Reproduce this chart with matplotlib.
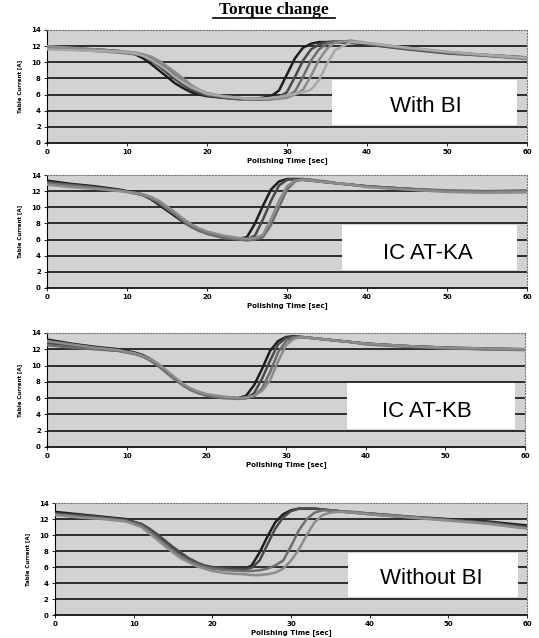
import matplotlib
matplotlib.use("Agg")
import matplotlib.pyplot as plt
from matplotlib.patches import Rectangle
from matplotlib.lines import Line2D

# polishing time grid [sec]
t = [0, 3, 6, 9, 11, 12, 13, 14, 15, 16, 17, 18, 19, 20, 22, 24, 25, 26, 27, 28,
     29, 30, 31, 32, 33, 34, 35, 36, 38, 40, 45, 50, 55, 60]

# table current [A] - With BI
with_bi = [
    [11.9, 11.7, 11.6, 11.4, 11.0, 10.5, 9.8, 9.0, 8.2, 7.4, 6.8, 6.3, 6.0, 5.8, 5.6, 5.5, 5.5,
     5.5, 5.6, 5.8, 6.5, 8.5, 10.5, 11.8, 12.3, 12.5, 12.5, 12.5, 12.4, 12.2, 11.7, 11.2, 10.9, 10.6],
    [11.7, 11.6, 11.5, 11.3, 11.1, 10.8, 10.2, 9.5, 8.7, 7.9, 7.2, 6.6, 6.2, 5.9, 5.6, 5.4, 5.4,
     5.4, 5.4, 5.5, 5.7, 6.3, 8.2, 10.2, 11.6, 12.2, 12.5, 12.6, 12.5, 12.2, 11.6, 11.1, 10.8, 10.5],
    [11.8, 11.6, 11.4, 11.2, 11.0, 10.9, 10.5, 9.9, 9.2, 8.4, 7.6, 6.9, 6.4, 6.0, 5.7, 5.5, 5.5,
     5.4, 5.4, 5.4, 5.5, 5.8, 6.4, 8.2, 10.2, 11.6, 12.3, 12.6, 12.6, 12.3, 11.7, 11.2, 10.8, 10.4],
    [12.0, 11.8, 11.6, 11.4, 11.2, 11.0, 10.7, 10.2, 9.5, 8.8, 8.0, 7.2, 6.6, 6.2, 5.8, 5.6, 5.5,
     5.5, 5.5, 5.5, 5.5, 5.6, 6.0, 6.6, 8.3, 10.3, 11.7, 12.4, 12.7, 12.4, 11.8, 11.3, 10.9, 10.6],
    [11.6, 11.5, 11.4, 11.3, 11.1, 10.8, 10.3, 9.7, 9.0, 8.2, 7.5, 6.9, 6.5, 6.1, 5.8, 5.6, 5.5,
     5.5, 5.5, 5.6, 5.7, 5.9, 6.1, 6.3, 6.6, 7.8, 9.8, 11.5, 12.5, 12.4, 11.8, 11.3, 10.9, 10.5],
]

# IC AT-KA
ic_at_ka = [
    [13.3, 12.9, 12.6, 12.2, 11.8, 11.5, 11.0, 10.3, 9.6, 8.9, 8.2, 7.6, 7.1, 6.8, 6.3, 6.1, 6.3,
     8.0, 10.2, 12.2, 13.2, 13.5, 13.5, 13.4, 13.3, 13.2, 13.1, 13.0, 12.8, 12.6, 12.3, 12.0, 11.9, 11.9],
    [13.1, 12.8, 12.5, 12.1, 11.8, 11.6, 11.2, 10.6, 9.9, 9.2, 8.5, 7.8, 7.3, 6.9, 6.4, 6.1, 6.0,
     6.5, 8.5, 10.8, 12.7, 13.4, 13.5, 13.5, 13.4, 13.2, 13.1, 13.0, 12.8, 12.6, 12.2, 12.0, 11.9, 12.0],
    [13.0, 12.7, 12.4, 12.1, 11.7, 11.5, 11.1, 10.5, 9.8, 9.1, 8.3, 7.6, 7.1, 6.7, 6.2, 6.0, 5.9,
     6.0, 6.3, 7.8, 10.0, 12.2, 13.2, 13.5, 13.4, 13.3, 13.2, 13.0, 12.8, 12.6, 12.3, 12.1, 12.0, 12.1],
    [12.8, 12.5, 12.3, 12.0, 11.8, 11.6, 11.3, 10.8, 10.1, 9.4, 8.6, 7.9, 7.4, 7.0, 6.5, 6.2, 6.1,
     6.2, 6.6, 8.5, 10.8, 12.6, 13.3, 13.4, 13.3, 13.2, 13.1, 13.0, 12.8, 12.5, 12.2, 11.9, 11.8, 11.9],
]

# IC AT-KB
ic_at_kb = [
    [13.2, 12.7, 12.3, 12.0, 11.6, 11.3, 10.8, 10.1, 9.3, 8.4, 7.7, 7.1, 6.7, 6.4, 6.1, 6.0, 6.3,
     7.6, 9.6, 11.8, 13.0, 13.5, 13.6, 13.5, 13.4, 13.3, 13.2, 13.1, 12.9, 12.7, 12.4, 12.2, 12.1, 12.0],
    [12.8, 12.4, 12.1, 11.8, 11.5, 11.2, 10.7, 10.0, 9.2, 8.4, 7.7, 7.1, 6.7, 6.4, 6.1, 6.0, 6.0,
     6.6, 8.4, 10.6, 12.6, 13.4, 13.5, 13.5, 13.4, 13.3, 13.2, 13.1, 12.9, 12.7, 12.4, 12.2, 12.0, 12.0],
    [12.5, 12.2, 12.0, 11.8, 11.4, 11.1, 10.6, 9.9, 9.1, 8.3, 7.6, 7.0, 6.6, 6.3, 6.0, 5.9, 6.0,
     6.2, 7.2, 9.2, 11.6, 13.0, 13.5, 13.5, 13.4, 13.3, 13.2, 13.1, 12.9, 12.6, 12.3, 12.1, 12.0, 11.9],
    [13.0, 12.6, 12.2, 11.9, 11.5, 11.2, 10.8, 10.2, 9.4, 8.6, 7.8, 7.2, 6.8, 6.5, 6.2, 6.0, 6.1,
     6.3, 6.9, 8.2, 10.5, 12.5, 13.3, 13.5, 13.4, 13.3, 13.2, 13.1, 12.9, 12.7, 12.4, 12.2, 12.1, 12.0],
]

# Without BI
without_bi = [
    [12.9, 12.6, 12.3, 12.0, 11.3, 10.6, 9.8, 9.0, 8.2, 7.5, 6.9, 6.4, 6.1, 5.9, 5.7, 5.7, 6.2,
     7.8, 9.8, 11.6, 12.6, 13.1, 13.3, 13.3, 13.3, 13.2, 13.1, 13.0, 12.8, 12.7, 12.3, 12.0, 11.7, 11.2],
    [12.7, 12.5, 12.2, 11.9, 11.4, 10.8, 10.1, 9.3, 8.5, 7.8, 7.1, 6.6, 6.2, 6.0, 5.8, 5.7, 5.9,
     6.8, 8.8, 10.8, 12.2, 13.0, 13.3, 13.3, 13.3, 13.2, 13.1, 13.0, 12.8, 12.6, 12.2, 11.9, 11.6, 11.0],
    [12.6, 12.3, 12.1, 11.8, 11.2, 10.5, 9.7, 8.9, 8.1, 7.4, 6.8, 6.4, 6.0, 5.8, 5.6, 5.5, 5.5,
     5.6, 5.8, 6.2, 6.8, 8.6, 10.6, 12.0, 12.8, 13.1, 13.1, 13.0, 12.9, 12.7, 12.3, 11.9, 11.5, 10.9],
    [12.5, 12.2, 12.0, 11.7, 11.0, 10.2, 9.4, 8.6, 7.8, 7.1, 6.6, 6.1, 5.8, 5.5, 5.2, 5.1, 5.0,
     5.0, 5.1, 5.3, 5.8, 6.8, 8.2, 10.0, 11.6, 12.5, 12.8, 12.9, 12.8, 12.6, 12.2, 11.8, 11.4, 10.8],
]

panels = [with_bi, ic_at_ka, ic_at_kb, without_bi]
labels = ["With BI", "IC AT-KA", "IC AT-KB", "Without BI"]
yticks = [0, 2, 4, 6, 8, 10, 12, 14]
xticks = [0, 10, 20, 30, 40, 50, 60]

# layout (figure fractions) and white label boxes (data units)
rects = [
    [0.0872, 0.7759, 0.8905, 0.1771],
    [0.0872, 0.5486, 0.8905, 0.1771],
    [0.0872, 0.2994, 0.8868, 0.1787],
    [0.1020, 0.0360, 0.8757, 0.1755],
]
box_left = [35.6, 36.9, 37.6, 37.2]
text_pos = [(47.4, 4.5), (47.6, 4.3), (47.7, 4.4), (47.8, 4.6)]
colors = ["#1e1e1e", "#4a4a4a", "#6e6e6e", "#8c8c8c", "#a8a8a8"]

fig = plt.figure(figsize=(5.39, 6.38), dpi=100)

fig.text(0.508, 0.984, "Torque change", ha="center", va="center",
         fontsize=12.5, fontweight="bold", family="Liberation Serif")
fig.add_artist(Line2D([213 / 539, 335 / 539], [1 - 18 / 638, 1 - 18 / 638],
                      color="black", lw=1.2))

for i, data in enumerate(panels):
    ax = fig.add_axes(rects[i])
    ax.set_facecolor("#d2d2d2")
    ax.set_xlim(0, 60)
    ax.set_ylim(0, 14)

    for y in yticks[1:-1]:
        ax.axhline(y, color="black", lw=1.1, zorder=2)

    ax.add_patch(Rectangle((box_left[i], 2.2), 58.8 - box_left[i], 5.6,
                           facecolor="white", edgecolor="none", zorder=2.5))

    for j, curve in enumerate(data):
        ax.plot(t, curve, color=colors[j % len(colors)], lw=1.8, zorder=3)

    ax.text(text_pos[i][0], text_pos[i][1], labels[i], ha="center", va="center",
            fontsize=16, family="Liberation Sans", zorder=4)

    ax.set_xticks(xticks)
    ax.set_yticks(yticks)
    ax.tick_params(labelsize=5, length=2, width=0.6, pad=2.5)
    for lab in ax.get_xticklabels() + ax.get_yticklabels():
        lab.set_fontweight("bold")
    ax.set_xlabel("Polishing Time [sec]", fontsize=5, fontweight="bold", labelpad=1)
    ax.set_ylabel("Table Current [A]", fontsize=4, fontweight="bold", labelpad=6)

    for side in ["top", "right"]:
        ax.spines[side].set_color("#777777")
        ax.spines[side].set_linestyle(":")
        ax.spines[side].set_linewidth(0.8)
    ax.spines["left"].set_linewidth(0.8)
    ax.spines["bottom"].set_linewidth(1.2)

plt.savefig("out.png", dpi=100)
plt.close()
